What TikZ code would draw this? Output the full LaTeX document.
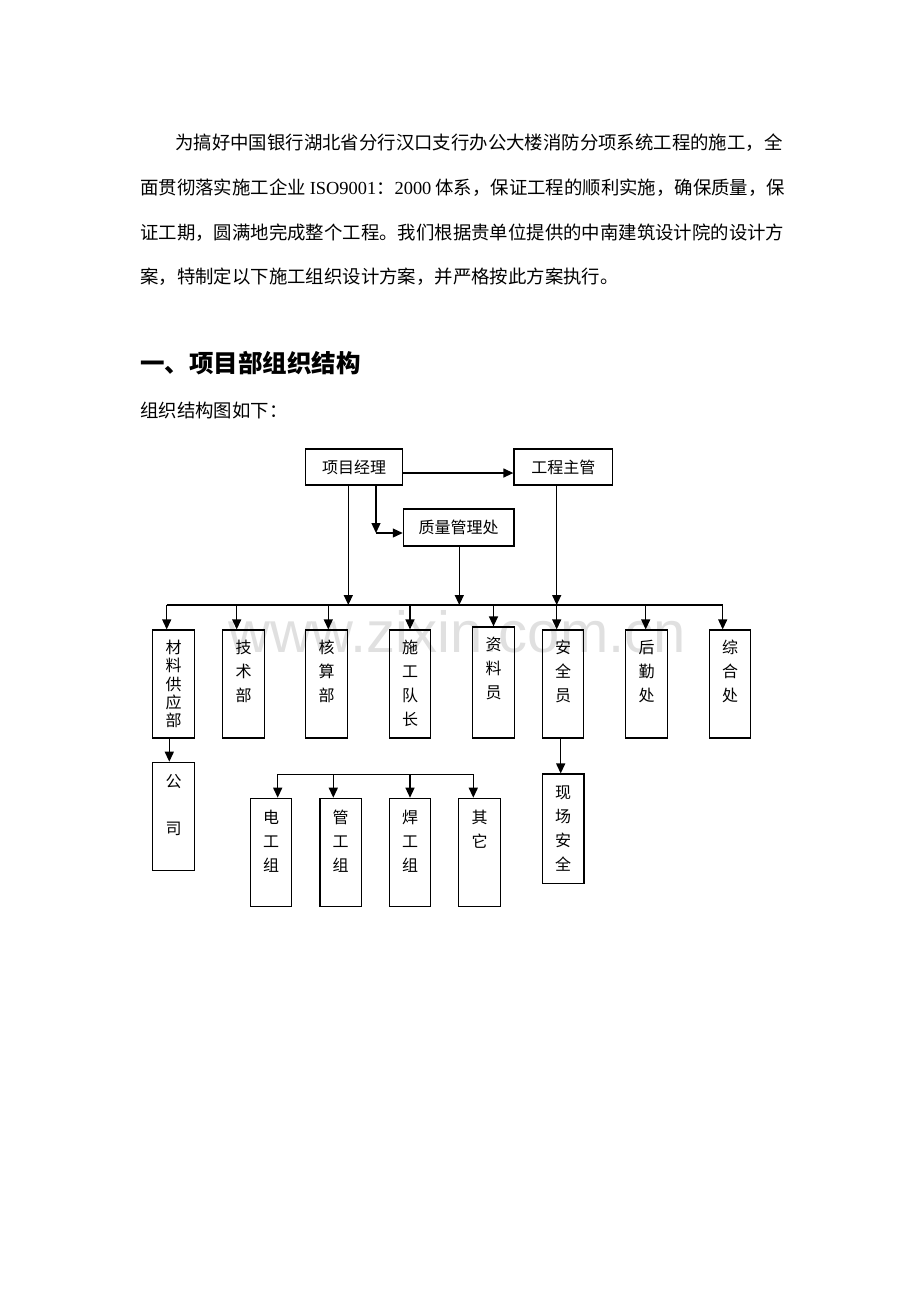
\documentclass[tikz,border=0pt]{standalone}
\usepackage{fontspec}
\setmainfont{Liberation Serif}
\newfontfamily\cjk{Noto Sans CJK SC}
\newfontfamily\wmfont{Liberation Sans}
\usepackage{tikz}
\usetikzlibrary{arrows.meta,positioning}

\tikzset{
  box/.style={draw,line width=1.2pt,inner sep=0pt,minimum height=36pt,font=\cjk\fontsize{16}{18}\selectfont},
  unit/.style={draw,line width=1.2pt,inner sep=0pt,minimum width=41.6pt,minimum height=108.4pt},
  col/.style={align=center,inner sep=0pt,font=\cjk\fontsize{16}{#1}\selectfont},
  col/.default=24,
  link/.style={line width=1.3pt},
  arr/.style={link,-{Triangle[length=10pt,width=9pt]}},
  body/.style={anchor=base west,inner sep=0pt,font=\cjk\fontsize{18.4}{22}\selectfont},
}

\begin{document}
\begin{tikzpicture}[x=1pt,y=-1pt]
\useasboundingbox (0,0) rectangle (920,1302);

% watermark
\node[anchor=base,inner sep=0pt,text=black!12,font=\wmfont\fontsize{58}{62}\selectfont] (wm) at (457,652) {www.zixin.com.cn};

% text
\node[body] (p1) at (175,149) {为搞好中国银行湖北省分行汉口支行办公大楼消防分项系统工程的施工，全};
\node[body] (p2) at (140,194) {面贯彻落实施工企业\hspace{4pt}{\rmfamily ISO9001}：{\rmfamily 2000}\hspace{4pt}体系，保证工程的顺利实施，确保质量，保};
\node[body] (p3) at (140,239) {证工期，圆满地完成整个工程。我们根据贵单位提供的中南建筑设计院的设计方};
\node[body] (p4) at (140,283) {案，特制定以下施工组织设计方案，并严格按此方案执行。};
\node[body,font=\cjk\bfseries\fontsize{24.5}{28}\selectfont] (h1) at (140,372) {一、项目部组织结构};
\node[body] (cap) at (140,417) {组织结构图如下：};

% top
\node[box,minimum width=96.6pt] (pm) at (354,467) {项目经理};
\node[box,minimum width=98.7pt] (gm) at (563.3,467) {工程主管};
\node[box,minimum width=110.7pt,minimum height=37pt] (qc) at (458.7,527.5) {质量管理处};

\coordinate (bl) at (166.7,605);
\coordinate (br) at (722.7,605);
\coordinate (turn) at (376,533);

\draw[arr] ([yshift=-6pt]pm.east) -- ([yshift=-6pt]gm.west);
\draw[arr] ([xshift=22pt]pm.south) -- (turn);
\draw[arr] (turn) -- (turn -| qc.west);
\draw[arr] ([xshift=-5.7pt]pm.south) -- ([xshift=-5.7pt]pm.south |- bl);
\draw[arr] ([xshift=0.6pt]qc.south) -- ([xshift=0.6pt]qc.south |- bl);
\draw[arr] ([xshift=-6.6pt]gm.south) -- ([xshift=-6.6pt]gm.south |- bl);
\draw[link] (bl) -- (br);

% departments
\node[unit,minimum height=108pt] (cl) at (173.5,684) {};
\node[col=18.3,below=10.5pt of cl.north] {材\\料\\供\\应\\部};
\node[unit,minimum height=108pt] (tc) at (243.5,684) {};
\node[col,below=10.5pt of tc.north] {技\\术\\部};
\node[unit,minimum height=108pt] (ac) at (326.5,684) {};
\node[col,below=10.5pt of ac.north] {核\\算\\部};
\node[unit,minimum height=108pt] (cd) at (410,684) {};
\node[col,below=10.5pt of cd.north] {施\\工\\队\\长};
\node[unit,minimum height=111pt] (dr) at (493.5,682.5) {};
\node[col,below=10.5pt of dr.north] {资\\料\\员};
\node[unit,minimum height=108pt] (so) at (563,684) {};
\node[col,below=10.5pt of so.north] {安\\全\\员};
\node[unit,minimum height=108pt] (lg) at (646.5,684) {};
\node[col,below=10.5pt of lg.north] {后\\勤\\处};
\node[unit,minimum height=108pt] (gn) at (730,684) {};
\node[col,below=10.5pt of gn.north] {综\\合\\处};

\foreach \u/\d in {cl/-6.8,tc/-6.8,ac/1.8,cd/0,dr/0,so/-6.3,lg/-0.8,gn/-7.3}
  \draw[arr] ([xshift=\d pt]\u.north |- bl) -- ([xshift=\d pt]\u.north);

% second level
\node[unit] (co) at (173.5,816.5) {};
\node[col=47.6,below=12pt of co.north] {公\\司};
\draw[arr] ([xshift=-4.2pt]cl.south) -- ([xshift=-4.2pt]co.north);

\node[unit,minimum height=109.3pt] (ss) at (563.2,828.7) {};
\node[col,below=12pt of ss.north] {现\\场\\安\\全};
\draw[arr] ([xshift=-2.3pt]so.south) -- ([xshift=-2.3pt]so.south |- ss.north);

% work groups
\node[unit] (ew) at (271,852.5) {};
\node[col,below=12pt of ew.north] {电\\工\\组};
\node[unit] (pw) at (340.7,852.5) {};
\node[col,below=12pt of pw.north] {管\\工\\组};
\node[unit] (ww) at (410,852.5) {};
\node[col,below=12pt of ww.north] {焊\\工\\组};
\node[unit] (ot) at (479.5,852.5) {};
\node[col,below=12pt of ot.north] {其\\它};

\coordinate (sl) at (277.7,774.3);
\coordinate (sr) at (473.3,774.3);
\draw[link] (sl) -- (sr);
\foreach \u/\d in {ew/6.7,pw/-7.4,ww/0,ot/-6.2}
  \draw[arr] ([xshift=\d pt]\u.north |- sl) -- ([xshift=\d pt]\u.north);
\end{tikzpicture}
\end{document}
